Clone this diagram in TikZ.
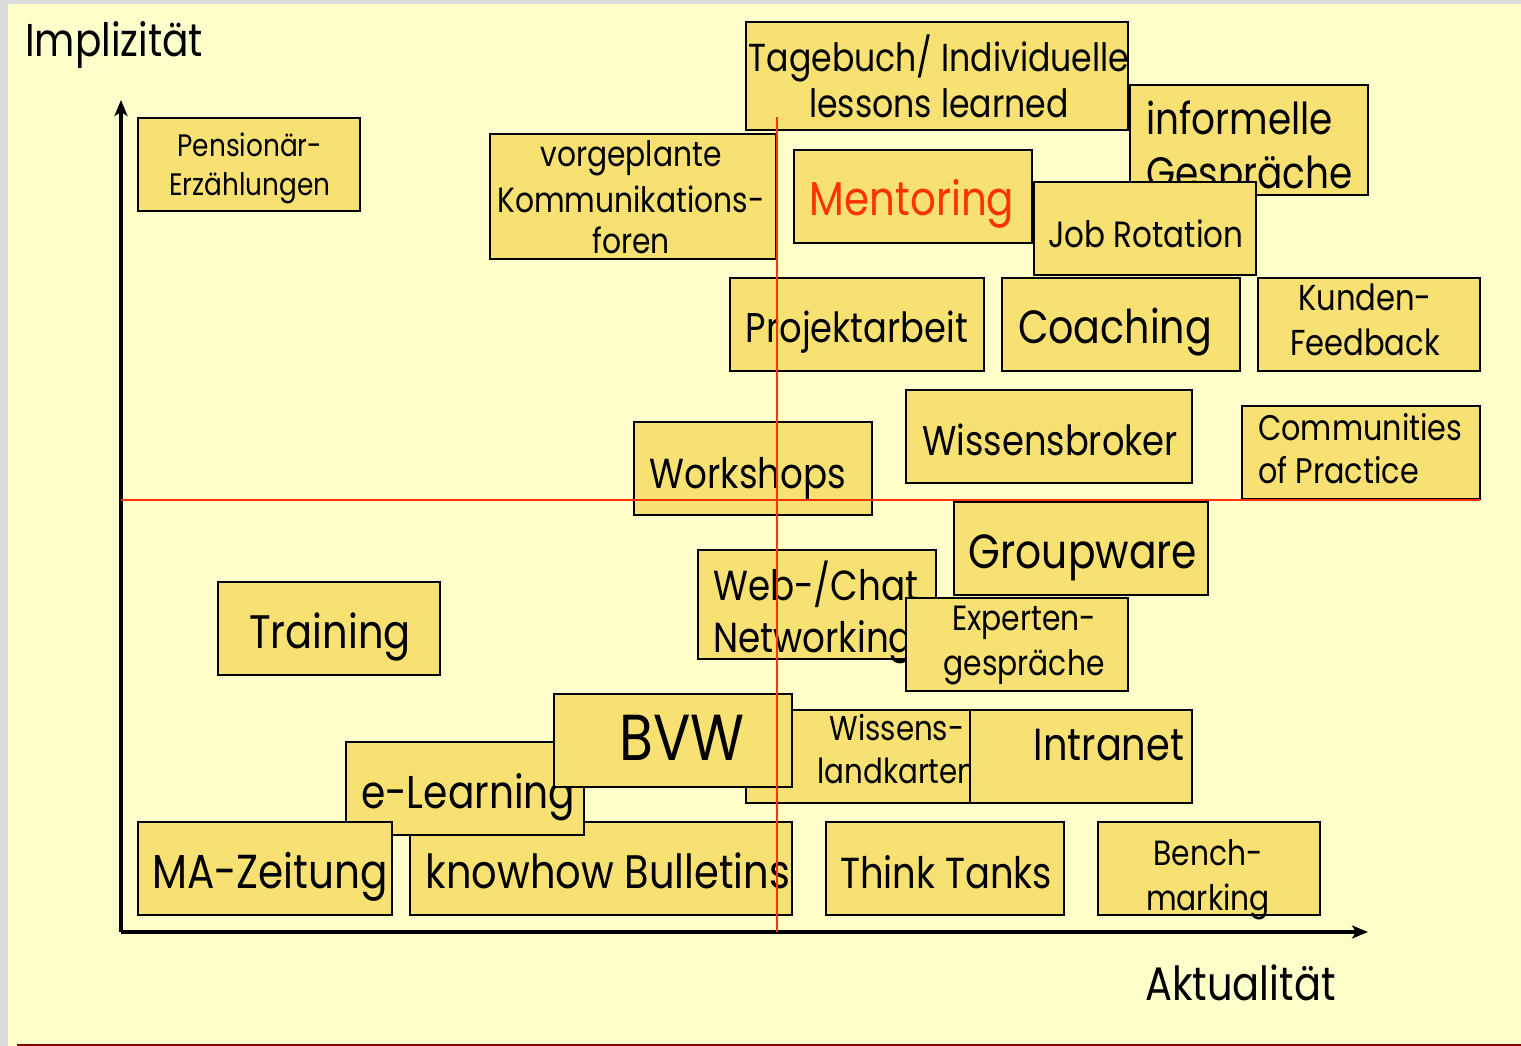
\documentclass[tikz,border=0pt]{standalone}
\usepackage{fontspec}
\newfontfamily\ff[FakeStretch=0.85]{Poppins}
\usetikzlibrary{arrows.meta}
\definecolor{bg}{HTML}{FFFFCC}
\definecolor{boxc}{HTML}{F8E173}
\definecolor{redl}{HTML}{FF3300}
\definecolor{greyb}{HTML}{DCDCDC}
\definecolor{darkred}{HTML}{8B0000}
\newcommand{\bbox}[5]{\node[bx, minimum width={(#4)-(#2)}, minimum height={(#5)-(#3)}] (#1) at ({((#2)+(#4))/2},{((#3)+(#5))/2}) {};}
\newcommand{\tline}[6][base]{\node[anchor=#1, inner sep=0pt, font=\ff\fontsize{#5}{#5}\selectfont] (#2) at (#3,#4) {#6};}
\begin{document}
\begin{tikzpicture}[x=1pt,y=-1pt,
  bx/.style={draw=black, line width=2.5pt, fill=boxc, inner sep=0pt, outer sep=0pt},
  axis/.style={draw=black, line width=4pt, -{Stealth[length=16pt,width=13pt,inset=4pt]}},
  quad/.style={draw=redl, line width=2pt}]
\useasboundingbox (0,0) rectangle (1521,1046);
\fill[bg] (0,0) rectangle (1521,1046);
\fill[greyb] (0,0) rectangle (1521,4);
\fill[greyb] (0,0) rectangle (8,1046);
\draw[darkred, line width=2pt] (17,1045) -- (1521,1045);

% axis titles
\tline[base west]{yl}{25}{57}{46}{Implizität}
\tline[base west]{xl}{1145}{1000}{47}{Aktualität}

% boxes
\bbox{pens}{138}{118}{360}{211}
\tline{pens1}{250}{157}{31}{Pensionär-}
\tline{pens2}{250}{196}{31}{Erzählungen}

\bbox{vorg}{490}{134}{776}{259}
\tline{vorg1}{631}{167}{35}{vorgeplante}
\tline{vorg2}{631}{212}{35}{Kommunikations-}
\tline{vorg3}{631}{253}{35}{foren}

\bbox{tage}{746}{22}{1128}{130}
\tline{tage1}{939}{72}{39}{Tagebuch/ Individuelle}
\tline{tage2}{939}{118}{39}{lessons learned}

\bbox{info}{1130}{85}{1368}{195}
\tline[base west]{info1}{1146}{135}{44}{informelle}
\tline[base west]{info2}{1146}{188}{44}{Gespräche}

\bbox{ment}{794}{150}{1032}{243}
\tline{ment1}{912}{215}{47.5}{\color{redl}Mentoring}

\bbox{jobr}{1034}{182}{1256}{275}
\tline{jobr1}{1146}{247}{36.5}{Job Rotation}

\bbox{proj}{730}{278}{984}{371}
\tline{proj1}{857}{342}{41.5}{Projektarbeit}

\bbox{coach}{1002}{278}{1240}{371}
\tline{coach1}{1115}{343}{46.6}{Coaching}

\bbox{kund}{1258}{278}{1480}{371}
\tline{kund1}{1365}{310}{36}{Kunden-}
\tline{kund2}{1365}{355}{36}{Feedback}

\bbox{wbro}{906}{390}{1192}{483}
\tline{wbro1}{1050}{455}{41.5}{Wissensbroker}

\bbox{comm}{1242}{406}{1480}{499}
\tline[base west]{comm1}{1258}{440}{35.6}{Communities}
\tline[base west]{comm2}{1258}{483}{35.6}{of Practice}

\bbox{work}{634}{422}{872}{515}
\tline{work1}{748}{488}{42}{Workshops}

\bbox{grou}{954}{502}{1208}{595}
\tline{grou1}{1083}{568}{48}{Groupware}

\bbox{webc}{698}{550}{936}{659}
\tline[base west]{webc1}{713}{600}{42}{Web-/Chat}
\tline[base west]{webc2}{713}{652}{42}{Networking}

\bbox{expe}{906}{598}{1128}{691}
\tline{expe1}{1024}{630}{35}{Experten-}
\tline{expe2}{1024}{675}{35}{gespräche}

\bbox{trai}{218}{582}{440}{675}
\tline{trai1}{330}{648}{47}{Training}

\bbox{wkar}{746}{710}{970}{803}
\tline{wkar1}{897}{740}{34.5}{Wissens-}
\tline{wkar2}{897}{783}{34.5}{landkarten}

\bbox{intr}{970}{710}{1192}{803}
\tline{intr1}{1109}{760}{45}{Intranet}

\bbox{know}{410}{822}{792}{915}
\tline{know1}{608}{888}{47}{knowhow Bulletins}

\bbox{elea}{346}{742}{584}{835}
\tline[base west]{elea1}{361}{808}{46}{e-Learning}

\bbox{maz}{138}{822}{392}{915}
\tline{maz1}{270}{888}{47.7}{MA-Zeitung}

\bbox{bvw}{554}{694}{792}{787}
\tline{bvw1}{682}{760}{65}{BVW}

\bbox{thin}{826}{822}{1064}{915}
\tline{thin1}{946}{888}{43.4}{Think Tanks}

\bbox{benc}{1098}{822}{1320}{915}
\tline{benc1}{1208}{865}{35}{Bench-}
\tline{benc2}{1208}{910}{35}{marking}

% axes
\coordinate (org) at (121,932);
\coordinate (ytop) at (121,100);
\coordinate (xend) at (1368,932);
\draw[axis] (org) -- (ytop);
\draw[axis] (org) -- (xend);

% quadrant lines
\coordinate (vtop) at (777,117);
\coordinate (vbot) at (777,932);
\coordinate (hl) at (121,500);
\coordinate (hr) at (1480,500);
\draw[quad] (vtop) -- (vbot);
\draw[quad] (hl) -- (hr);
\end{tikzpicture}
\end{document}
